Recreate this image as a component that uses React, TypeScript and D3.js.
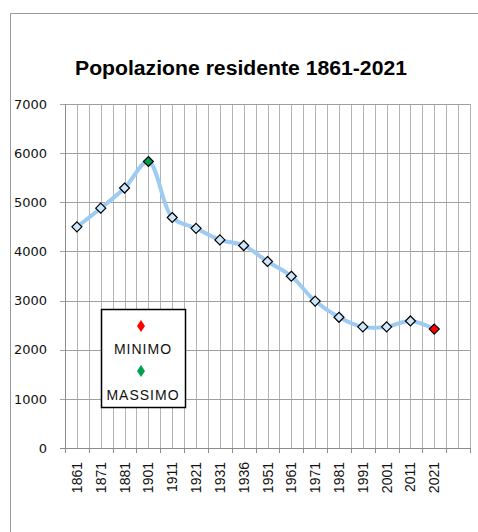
import * as d3 from "d3";

// data
const years = ["1861", "1871", "1881", "1901", "1911", "1921", "1931", "1936", "1951", "1961", "1971", "1981", "1991", "2001", "2011", "2021"];
const population = [4500, 4880, 5290, 5830, 4690, 4470, 4235, 4120, 3795, 3495, 2990, 2660, 2465, 2465, 2585, 2420];
const yTicks = [0, 1000, 2000, 3000, 4000, 5000, 6000, 7000];
const legendLabels = ["MINIMO", "MASSIMO"];
const title = "Popolazione residente 1861-2021";

const width = 478;
const height = 532;
const plot = { left: 65, right: 470, top: 104, bottom: 448 };

const MIN_COLOR = "#ff0000";
const MAX_COLOR = "#00a04f";

export default function App() {
  // one empty slot after the last year, like the original
  const slots = d3.range(years.length + 1);
  const x = d3.scaleBand<number>().domain(slots).range([plot.left, plot.right]);
  const y = d3.scaleLinear().domain([0, 7000]).range([plot.bottom, plot.top]);

  const cx = (i: number) => (x(i) as number) + x.bandwidth() / 2;

  const line = d3
    .line<number>()
    .x((_, i) => cx(i))
    .y((d) => y(d))
    .curve(d3.curveCatmullRom.alpha(0.5));

  const maxI = d3.maxIndex(population);
  const minI = d3.minIndex(population);

  // vertical grid at every band edge and center
  const vGrid: number[] = [];
  slots.forEach((i) => {
    vGrid.push(x(i) as number);
    vGrid.push(cx(i));
  });
  vGrid.push(plot.right);

  const diamond = (px: number, py: number, w: number, h: number) =>
    `M${px},${py - h} L${px + w},${py} L${px},${py + h} L${px - w},${py} Z`;

  return (
    <svg
      width={width}
      height={height}
      style={{ position: "absolute", left: 0, top: 0, background: "#fff" }}
    >
      {/* outer frame */}
      <line x1={10.5} y1={13.5} x2={10.5} y2={height} stroke="#9a9a9a" />
      <line x1={10.5} y1={13.5} x2={width} y2={13.5} stroke="#9a9a9a" />

      <text
        x={241}
        y={75}
        textAnchor="middle"
        fontFamily="'Liberation Sans', Arial, sans-serif"
        fontWeight="bold"
        fontSize={19.5}
        textLength={332}
        lengthAdjust="spacingAndGlyphs"
      >
        {title}
      </text>

      {/* gridlines */}
      {vGrid.map((gx, i) => (
        <line
          key={"v" + i}
          x1={Math.round(gx) + 0.5}
          x2={Math.round(gx) + 0.5}
          y1={plot.top}
          y2={plot.bottom}
          stroke="#b4b4b4"
        />
      ))}
      {yTicks.map((t) => (
        <line
          key={"h" + t}
          x1={plot.left - 5}
          x2={plot.right}
          y1={Math.round(y(t)) + 0.5}
          y2={Math.round(y(t)) + 0.5}
          stroke="#a0a0a0"
        />
      ))}

      {/* axes */}
      <line x1={plot.left + 0.5} x2={plot.left + 0.5} y1={plot.top} y2={plot.bottom} stroke="#8c8c8c" />
      <line x1={plot.left - 5} x2={plot.right} y1={plot.bottom + 0.5} y2={plot.bottom + 0.5} stroke="#8c8c8c" />
      {slots.concat([slots.length]).map((i) => {
        const tx = Math.round(i < slots.length ? (x(i) as number) : plot.right) + 0.5;
        return <line key={"t" + i} x1={tx} x2={tx} y1={plot.bottom} y2={plot.bottom + 5} stroke="#8c8c8c" />;
      })}

      {yTicks.map((t) => (
        <text
          key={"yl" + t}
          x={47}
          y={y(t)}
          dy="0.36em"
          textAnchor="end"
          fontFamily="'DejaVu Sans', Verdana, sans-serif"
          fontSize={13}
          fill="#111"
        >
          {t}
        </text>
      ))}

      {years.map((yr, i) => (
        <text
          key={"xl" + yr}
          transform={`translate(${cx(i) + 5},${plot.bottom + 14}) rotate(-90)`}
          textAnchor="end"
          fontFamily="'Liberation Sans', Arial, sans-serif"
          fontSize={14}
          fill="#111"
        >
          {yr}
        </text>
      ))}

      {/* series */}
      <path d={line(population) || ""} fill="none" stroke="#9dcbf3" strokeWidth={4} />
      {population.map((v, i) => (
        <path
          key={"m" + i}
          d={diamond(cx(i), y(v), 5, 5)}
          fill={i === maxI ? MAX_COLOR : i === minI ? MIN_COLOR : "#cfe6fb"}
          stroke="#000"
          strokeWidth={1.2}
        />
      ))}

      {/* legend */}
      <rect x={101.5} y={309.5} width={84} height={98} fill="#fff" stroke="#000" strokeWidth={1.5} />
      <path d={diamond(141, 326, 4, 6)} fill={MIN_COLOR} />
      <path d={diamond(141, 371, 4, 6)} fill={MAX_COLOR} />
      {legendLabels.map((l, i) => (
        <text
          key={l}
          x={143}
          y={354 + i * 46}
          textAnchor="middle"
          fontFamily="'Liberation Sans', Arial, sans-serif"
          fontSize={14}
          letterSpacing={1}
          fill="#111"
        >
          {l}
        </text>
      ))}
    </svg>
  );
}
